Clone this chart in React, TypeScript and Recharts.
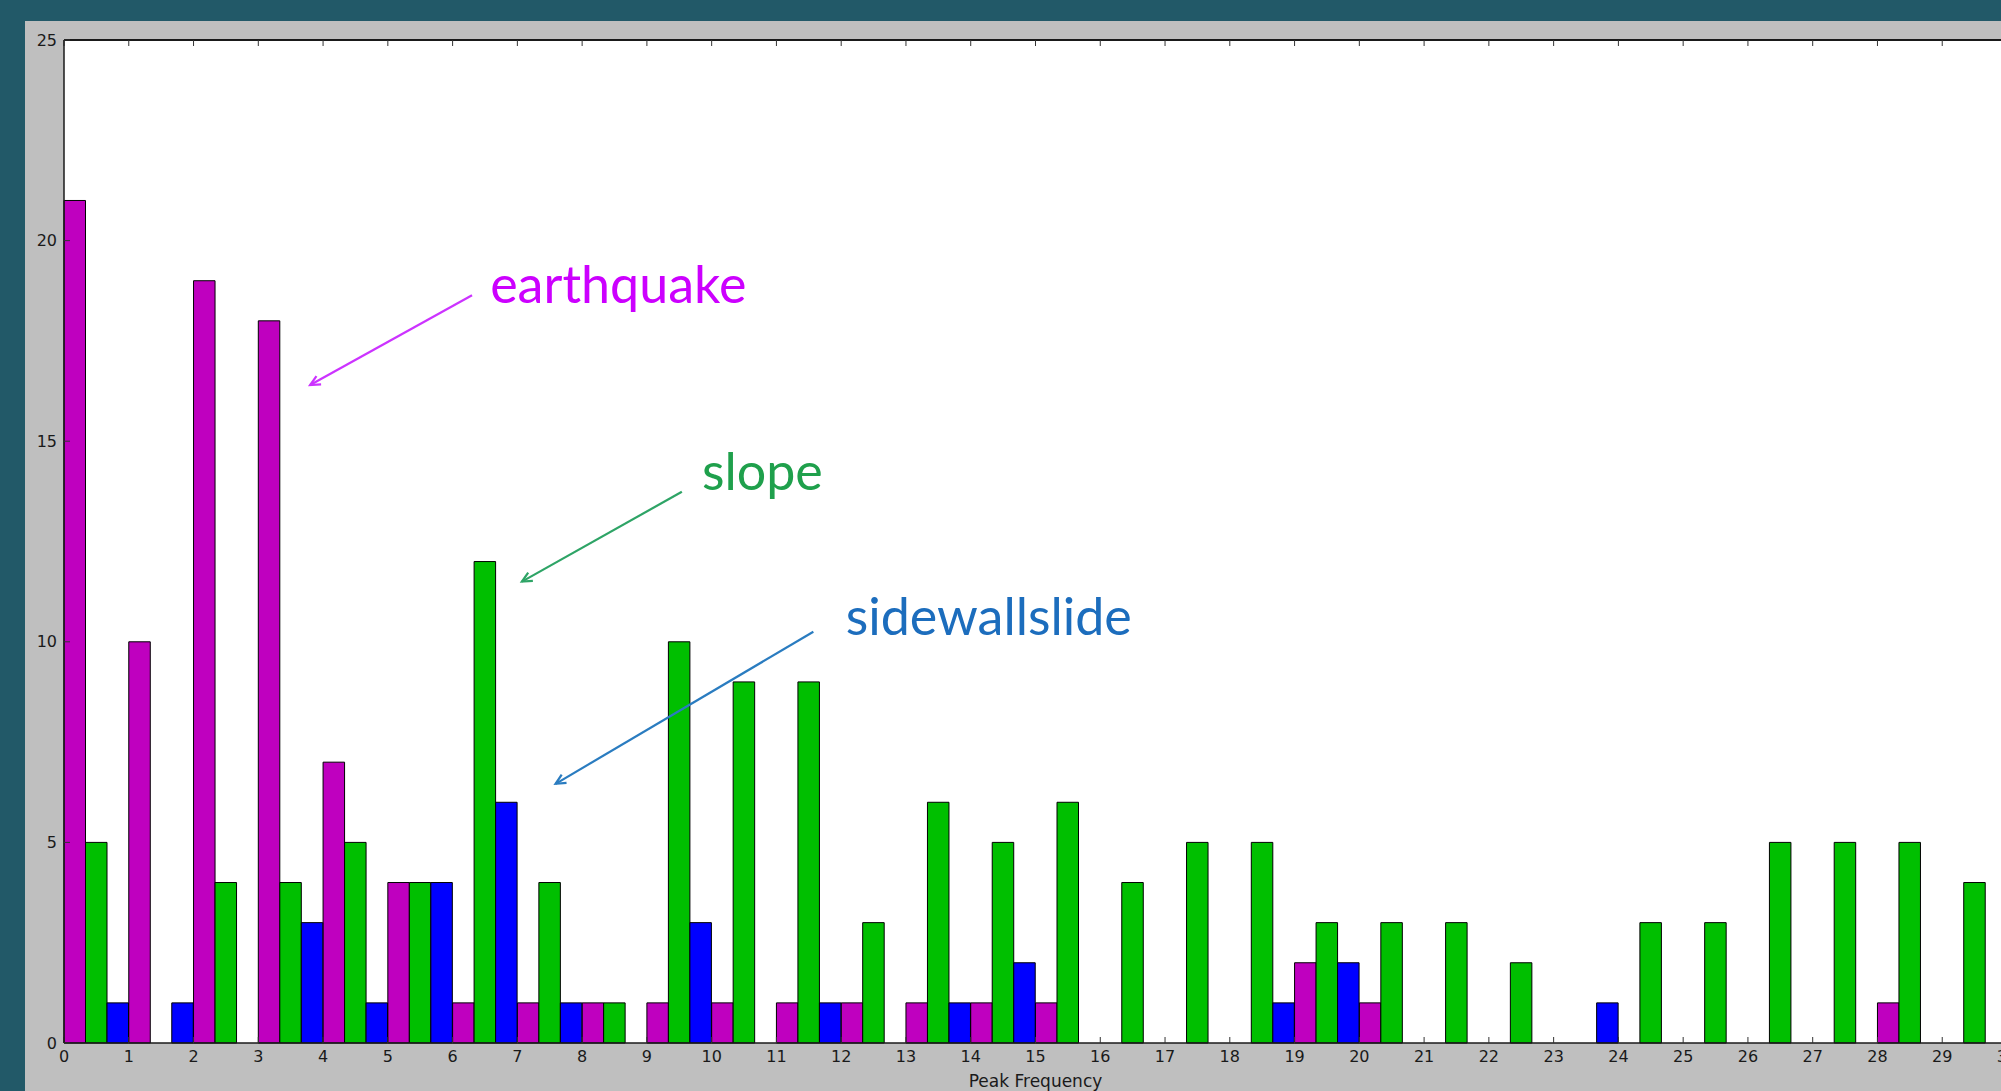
import { BarChart, Bar, XAxis, YAxis, CartesianGrid, ReferenceLine, ReferenceDot } from "recharts";

// histogram bins (left edge of each 1-wide bin)
const binStart = [0, 1, 2, 3, 4, 5, 6, 7, 8, 9, 10, 11, 12, 13, 14, 15, 16, 17, 18, 19, 20, 21, 22, 23, 24, 25, 26, 27, 28, 29];

const earthquake = [21, 10, 19, 18, 7, 4, 1, 1, 1, 1, 1, 1, 1, 1, 1, 1, 0, 0, 0, 2, 1, 0, 0, 0, 0, 0, 0, 0, 1, 0];
const slope = [5, 0, 4, 4, 5, 4, 12, 4, 1, 10, 9, 9, 3, 6, 5, 6, 4, 5, 5, 3, 3, 3, 2, 0, 3, 3, 5, 5, 5, 4];
const sidewallslide = [1, 1, 0, 3, 1, 4, 6, 1, 0, 3, 0, 1, 0, 1, 2, 0, 0, 0, 1, 2, 0, 0, 0, 1, 0, 0, 0, 0, 0, 0];

const xTicks = [0, 1, 2, 3, 4, 5, 6, 7, 8, 9, 10, 11, 12, 13, 14, 15, 16, 17, 18, 19, 20, 21, 22, 23, 24, 25, 26, 27, 28, 29, 30];
const yTicks = [0, 5, 10, 15, 20, 25];

// callouts drawn over the plot (data coordinates)
const callouts = [
  { text: "earthquake", color: "#cc00ff", arrow: "#cc33ff", at: { x: 6.58, y: 18.44 }, from: { x: 6.3, y: 18.64 }, to: { x: 3.8, y: 16.4 } },
  { text: "slope", color: "#1fa04c", arrow: "#2ea466", at: { x: 9.85, y: 13.78 }, from: { x: 9.54, y: 13.74 }, to: { x: 7.07, y: 11.5 } },
  { text: "sidewallslide", color: "#1c6dbd", arrow: "#2a7cc0", at: { x: 12.07, y: 10.17 }, from: { x: 11.57, y: 10.25 }, to: { x: 7.59, y: 6.46 } },
];

const data = binStart.map((b, i) => ({
  center: b + 0.5,
  earthquake: earthquake[i],
  slope: slope[i],
  sidewallslide: sidewallslide[i],
}));

const tickStyle = { fontSize: 16, fill: "#1a1a1a", fontFamily: "DejaVu Sans" };

function makeArrow(color: string) {
  return (p: any) => {
    const { x1, y1, x2, y2 } = p;
    const a = Math.atan2(y2 - y1, x2 - x1);
    const L = 11;
    const s = 0.45;
    const h1x = x2 - L * Math.cos(a - s);
    const h1y = y2 - L * Math.sin(a - s);
    const h2x = x2 - L * Math.cos(a + s);
    const h2y = y2 - L * Math.sin(a + s);
    return (
      <g>
        <line x1={x1} y1={y1} x2={x2} y2={y2} stroke={color} strokeWidth={2.2} />
        <polyline points={`${h1x},${h1y} ${x2},${y2} ${h2x},${h2y}`} fill="none" stroke={color} strokeWidth={2.2} />
      </g>
    );
  };
}

function makeText(text: string, color: string) {
  return (p: any) => (
    <text x={p.cx} y={p.cy} fill={color} fontSize={52} fontFamily="Lato" textAnchor="start">
      {text}
    </text>
  );
}

export default function App() {
  return (
    <div style={{ position: "absolute", left: 0, top: 0, width: 2001, height: 1091, overflow: "hidden", background: "#225968" }}>
      <div style={{ position: "absolute", left: 25, top: 21, right: 0, bottom: 0, background: "#bfbfbf" }} />
      <div style={{ position: "absolute", left: 0, top: 0 }}>
        <BarChart
          width={2100}
          height={1091}
          data={data}
          margin={{ top: 39, right: 93, bottom: 0, left: 0 }}
          barCategoryGap={0}
          barGap={0}
        >
          <CartesianGrid fill="#ffffff" horizontal={false} vertical={false} />
          <XAxis
            type="number"
            dataKey="center"
            domain={[0, 30]}
            ticks={xTicks}
            interval={0}
            height={48}
            tickSize={-6}
            tickMargin={14}
            tick={tickStyle}
            axisLine={{ stroke: "#1a1a1a", strokeWidth: 1.5 }}
            tickLine={{ stroke: "#333" }}
            label={{ value: "Peak Frequency", position: "insideBottom", offset: 4, fill: "#1a1a1a", fontSize: 17, fontFamily: "DejaVu Sans" }}
          />
          <XAxis
            xAxisId="top"
            orientation="top"
            type="number"
            dataKey="center"
            domain={[0, 30]}
            ticks={xTicks}
            interval={0}
            height={1}
            tickSize={-6}
            tickFormatter={() => ""}
            axisLine={{ stroke: "#1a1a1a", strokeWidth: 2 }}
            tickLine={{ stroke: "#333" }}
          />
          <YAxis
            type="number"
            domain={[0, 25]}
            ticks={yTicks}
            interval={0}
            width={64}
            tickSize={-6}
            tickMargin={13}
            tick={tickStyle}
            axisLine={{ stroke: "#1a1a1a", strokeWidth: 1.5 }}
            tickLine={{ stroke: "#333" }}
          />
          <Bar dataKey="earthquake" fill="#bf00bf" stroke="#000" strokeWidth={1} barSize={21.5} isAnimationActive={false} />
          <Bar dataKey="slope" fill="#00bf00" stroke="#000" strokeWidth={1} barSize={21.5} isAnimationActive={false} />
          <Bar dataKey="sidewallslide" fill="#0000ff" stroke="#000" strokeWidth={1} barSize={21.5} isAnimationActive={false} />
          {callouts.map((c) => (
            <ReferenceLine key={c.text + "-arrow"} segment={[c.from, c.to]} shape={makeArrow(c.arrow)} />
          ))}
          {callouts.map((c) => (
            <ReferenceDot key={c.text} x={c.at.x} y={c.at.y} r={0} shape={makeText(c.text, c.color)} />
          ))}
        </BarChart>
      </div>
    </div>
  );
}
